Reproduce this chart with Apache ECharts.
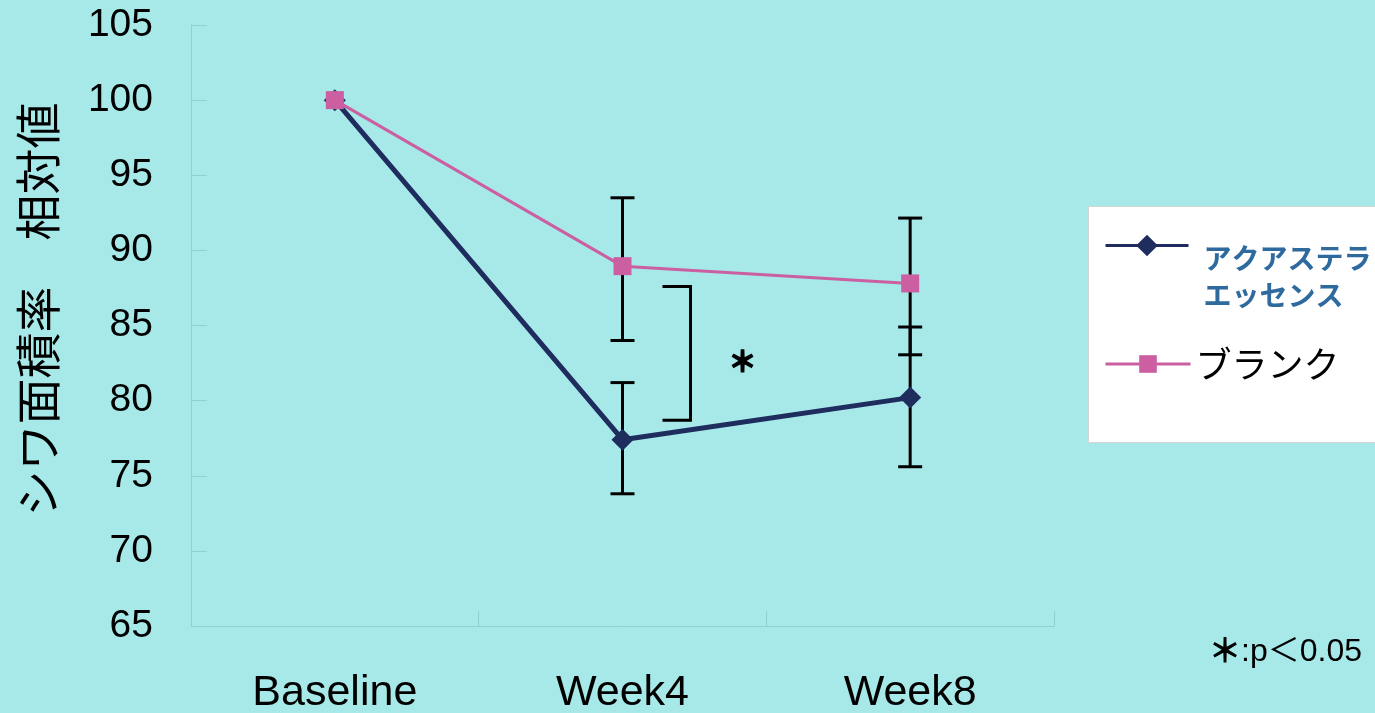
<!DOCTYPE html>
<html><head><meta charset="utf-8">
<script src="https://cdn.jsdelivr.net/npm/echarts@6/dist/echarts.min.js"></script>
<style>html,body{margin:0;padding:0;background:#a6e9e8}#c{width:1375px;height:713px}</style>
</head><body><div id="c"></div>
<script>
// ---- data ----
const categories = ['Baseline', 'Week4', 'Week8'];
const yMin = 65, yMax = 105, yInterval = 5;
const seriesNames = ['アクアステラエッセンス', 'ブランク'];
const legendLines = [['アクアステラ', 'エッセンス'], ['ブランク']];
const aquaValues = [100, 77.4, 80.2];
const aquaLow = [null, 73.8, 75.6];
const aquaHigh = [null, 81.2, 84.9];
const blankValues = [100, 88.95, 87.8];
const blankLow = [null, 84.0, 83.05];
const blankHigh = [null, 93.5, 92.15];
const sigBracket = [1, 87.6, 78.7];   // category index, top value, bottom value
const sigMark = '＊';
const footnoteMark = '＊';
const footnoteText = ':p＜0.05';
const yAxisTitle = 'シワ面積率　相対値';

// ---- styles ----
const NAVY = '#1f2c5e', PINK = '#cb5fa1', FAINT = '#90d0d0';
const LAT = 'Liberation Sans, Arial, sans-serif';
const JP = 'Noto Sans CJK JP, sans-serif';

function errData(low, high) {
  const out = [];
  categories.forEach((c, i) => { if (low[i] != null) out.push([i, low[i], high[i]]); });
  return out;
}
function errRender(params, api) {
  const x = api.value(0);
  const lo = api.coord([x, api.value(1)]);
  const hi = api.coord([x, api.value(2)]);
  const cap = 12;
  const st = { stroke: '#000', lineWidth: 3 };
  return { type: 'group', children: [
    { type: 'line', shape: { x1: lo[0], y1: lo[1], x2: hi[0], y2: hi[1] }, style: st },
    { type: 'line', shape: { x1: lo[0] - cap, y1: lo[1], x2: lo[0] + cap, y2: lo[1] }, style: st },
    { type: 'line', shape: { x1: hi[0] - cap, y1: hi[1], x2: hi[0] + cap, y2: hi[1] }, style: st }
  ]};
}
function bracketRender(params, api) {
  const x = api.value(0);
  const t = api.coord([x, api.value(1)]);
  const b = api.coord([x, api.value(2)]);
  const x0 = t[0] + 40, x1 = t[0] + 68;
  return { type: 'group', children: [
    { type: 'polyline', shape: { points: [[x0, t[1]], [x1, t[1]], [x1, b[1]], [x0, b[1]]] },
      style: { stroke: '#000', lineWidth: 3, fill: null } },
    { type: 'text', x: t[0] + 120, y: (t[1] + b[1]) / 2 + 8,
      style: { text: sigMark, font: 'bold 28px ' + JP, fill: '#000', stroke: '#000', lineWidth: 1.6,
               align: 'center', verticalAlign: 'middle' } }
  ]};
}

const chart = echarts.init(document.getElementById('c'));
chart.setOption({
  backgroundColor: '#a6e9e8',
  animation: false,
  grid: { left: 191, right: 321, top: 25, bottom: 87, outerBoundsMode: 'none' },
  xAxis: {
    type: 'category', data: categories, boundaryGap: true,
    axisLine: { lineStyle: { color: FAINT, width: 1 } },
    axisTick: { show: true, inside: true, length: 15, lineStyle: { color: FAINT } },
    axisLabel: { fontSize: 43, color: '#000', margin: 46, fontFamily: LAT },
    splitLine: { show: false }
  },
  yAxis: {
    type: 'value', min: yMin, max: yMax, interval: yInterval,
    axisLine: { show: true, lineStyle: { color: FAINT, width: 1 } },
    axisTick: { show: true, inside: true, length: 16, lineStyle: { color: FAINT } },
    axisLabel: { fontSize: 39, color: '#000', margin: 38, fontFamily: LAT },
    splitLine: { show: false },
    name: yAxisTitle, nameLocation: 'middle', nameGap: 130, nameRotate: 90,
    nameTextStyle: { fontSize: 46, color: '#000', fontFamily: JP, padding: [0, 0, 0, 32] }
  },
  legend: [
    {
      data: [seriesNames[0]],
      left: 1104, top: 203.5, orient: 'vertical', padding: 0, z: 10,
      itemWidth: 83, itemHeight: 27, selectedMode: false,
      lineStyle: { width: 3 },
      formatter: n => '{p| }\n' + legendLines[seriesNames.indexOf(n)].map(s => '{a|' + s + '}').join('\n'),
      textStyle: {
        rich: {
          p: { lineHeight: 63, fontSize: 10 },
          a: { color: '#2f6a9e', fontSize: 28, fontWeight: 'bold', lineHeight: 37, fontFamily: JP, padding: [0, 0, 0, 10] }
        }
      }
    },
    {
      data: [seriesNames[1]],
      left: 1104, top: 345, orient: 'vertical', padding: 0, z: 10,
      itemWidth: 85, itemHeight: 22, selectedMode: false,
      lineStyle: { width: 3 },
      textStyle: { color: '#000', fontSize: 36, lineHeight: 38, fontFamily: JP },
      formatter: n => legendLines[seriesNames.indexOf(n)].join('\n')
    }
  ],
  graphic: [
    { type: 'rect', left: 1088, top: 206, z: 1, shape: { width: 300, height: 236 },
      style: { fill: '#fff', stroke: '#d4d4d4', lineWidth: 1 } },
    { type: 'text', right: 13, top: 633, z: 1,
      style: {
        text: '{s|' + footnoteMark + '}{t|' + footnoteText + '}',
        rich: {
          s: { font: '32px ' + JP, fill: '#000', stroke: '#000', lineWidth: 1.2, lineHeight: 40, verticalAlign: 'middle', padding: [0, 0, 6, 0] },
          t: { font: '32px ' + LAT + ', ' + JP, fill: '#000', lineHeight: 40, verticalAlign: 'middle' }
        }
      } }
  ],
  series: [
    { type: 'custom', name: 'errA', renderItem: errRender, data: errData(aquaLow, aquaHigh),
      encode: { x: 0, y: [1, 2] }, z: 1, silent: true },
    { type: 'custom', name: 'errB', renderItem: errRender, data: errData(blankLow, blankHigh),
      encode: { x: 0, y: [1, 2] }, z: 1, silent: true },
    { type: 'custom', name: 'sig', renderItem: bracketRender, data: [sigBracket],
      encode: { x: 0, y: [1, 2] }, z: 1, silent: true },
    { type: 'line', name: seriesNames[0], data: aquaValues, symbol: 'diamond', symbolSize: 22,
      lineStyle: { color: NAVY, width: 5 }, itemStyle: { color: NAVY }, z: 3 },
    { type: 'line', name: seriesNames[1], data: blankValues, symbol: 'rect', symbolSize: 18,
      lineStyle: { color: PINK, width: 3 }, itemStyle: { color: PINK }, z: 4 }
  ]
});
</script>
</body></html>
